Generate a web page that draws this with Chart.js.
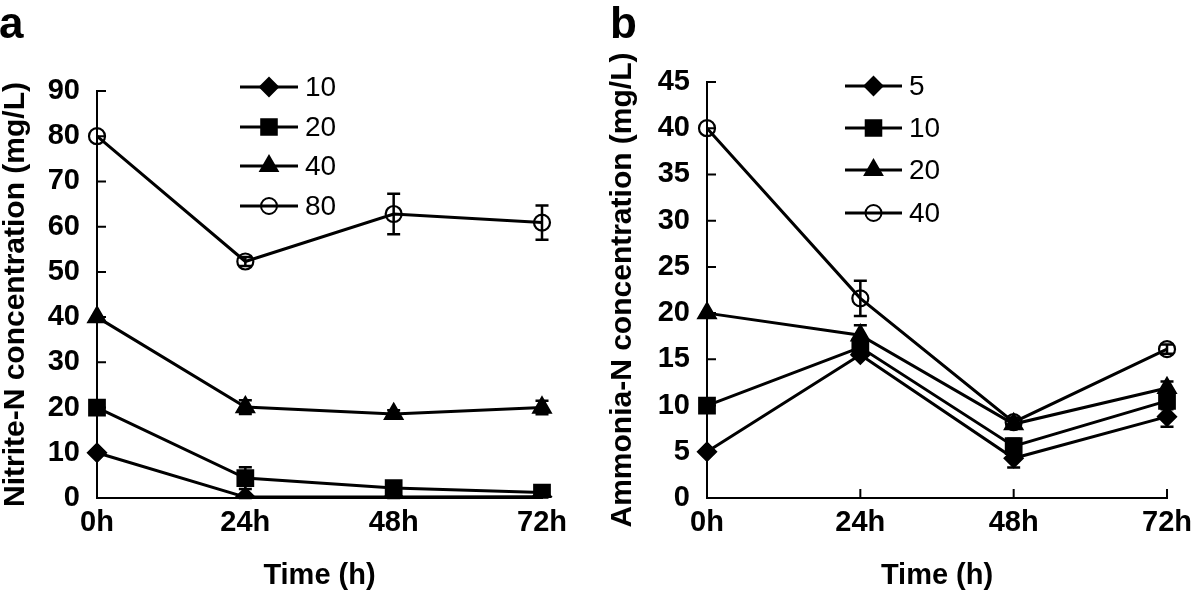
<!DOCTYPE html>
<html>
<head>
<meta charset="utf-8">
<script src="https://cdn.jsdelivr.net/npm/chart.js@4/dist/chart.umd.min.js"></script>
<style>
  body { margin: 0; background: #fff; width: 1200px; height: 595px; position: relative; overflow: hidden; font-family: "Liberation Sans", Arial, sans-serif; }
  .panel { position: absolute; top: 0; width: 600px; height: 595px; }
  .tag { position: absolute; top: 1px; font-weight: bold; font-size: 44px; line-height: 44px; color: #000; }
</style>
</head>
<body>
<div class="panel" style="left:0"><canvas id="chartA"></canvas></div>
<div class="panel" style="left:600px"><canvas id="chartB"></canvas></div>
<div class="tag" style="left:-1px">a</div>
<div class="tag" style="left:610px">b</div>
<script>
// shared x categories
const timeLabels = ["0h", "24h", "48h", "72h"];
const markerStyles = ["rectRot", "rect", "triangle", "circle"];
const markerSizes = [9, 11, 10, 8];

// panel a: nitrite-N (mg/L)
const nitriteNames = ["10", "20", "40", "80"];
const nitrite10 = [10, 0.2, 0.2, 0.3];
const nitrite20 = [20, 4.4, 2.2, 1.2];
const nitrite40 = [40, 20.1, 18.6, 20.0];
const nitrite80 = [80, 52.3, 62.8, 60.9];
const nitrite10Err = [0, 0.2, 0.2, 0.2];
const nitrite20Err = [0, 2.4, 0.6, 0.5];
const nitrite40Err = [0, 1.5, 0.8, 1.5];
const nitrite80Err = [0, 1.0, 4.5, 3.8];

// panel b: ammonia-N (mg/L)
const ammoniaNames = ["5", "10", "20", "40"];
const ammonia5 = [5, 15.5, 4.3, 8.8];
const ammonia10 = [10, 16.3, 5.6, 10.5];
const ammonia20 = [20, 17.6, 8.0, 11.9];
const ammonia40 = [40, 21.6, 8.2, 16.1];
const ammonia5Err = [0, 0.4, 1.0, 1.1];
const ammonia10Err = [0, 0.6, 0.8, 0.9];
const ammonia20Err = [0, 1.1, 0.5, 0.7];
const ammonia40Err = [0, 1.9, 0.5, 0.5];

const errorBars = {
  id: "errorBars",
  beforeDatasetsDraw(chart) {
    const ctx = chart.ctx, x = chart.scales.x, y = chart.scales.y;
    ctx.save();
    ctx.strokeStyle = "#000";
    ctx.lineWidth = 2.5;
    chart.data.datasets.forEach(ds => {
      ds.errors.forEach((e, i) => {
        if (!e) return;
        const px = x.getPixelForValue(i);
        const top = y.getPixelForValue(ds.data[i] + e);
        const bot = y.getPixelForValue(ds.data[i] - e);
        ctx.beginPath();
        ctx.moveTo(px, top); ctx.lineTo(px, bot);
        ctx.moveTo(px - 6.5, top); ctx.lineTo(px + 6.5, top);
        ctx.moveTo(px - 6.5, bot); ctx.lineTo(px + 6.5, bot);
        ctx.stroke();
      });
    });
    ctx.restore();
  }
};

// tick marks point into the plot
const innerTicks = {
  id: "innerTicks",
  afterDraw(chart) {
    const ctx = chart.ctx, x = chart.scales.x, y = chart.scales.y, a = chart.chartArea;
    ctx.save();
    ctx.strokeStyle = "#000";
    ctx.lineWidth = 2;
    ctx.beginPath();
    y.ticks.forEach(t => {
      const py = y.getPixelForValue(t.value);
      ctx.moveTo(a.left, py); ctx.lineTo(a.left + 9, py);
    });
    timeLabels.forEach((l, i) => {
      if (i === 0) return;
      const px = x.getPixelForValue(i);
      ctx.moveTo(px, a.bottom); ctx.lineTo(px, a.bottom - 9);
    });
    ctx.stroke();
    ctx.restore();
  }
};

const innerLegend = {
  id: "innerLegend",
  afterDraw(chart, args, opts) {
    const ctx = chart.ctx;
    ctx.save();
    ctx.font = "28px 'Liberation Sans', Arial, sans-serif";
    ctx.textBaseline = "middle";
    chart.data.datasets.forEach((ds, i) => {
      const ry = opts.rows[i];
      ctx.strokeStyle = "#000";
      ctx.lineWidth = 3;
      ctx.beginPath();
      ctx.moveTo(opts.x0, ry); ctx.lineTo(opts.x1, ry);
      ctx.stroke();
      ctx.fillStyle = ds.pointBackgroundColor;
      ctx.lineWidth = 2;
      Chart.helpers.drawPoint(ctx, { pointStyle: ds.pointStyle, radius: ds.pointRadius, rotation: 0, borderWidth: 2 }, (opts.x0 + opts.x1) / 2, ry);
      ctx.fillStyle = "#000";
      ctx.fillText(ds.label, opts.textX, ry + 1);
    });
    ctx.restore();
  }
};

function buildDatasets(names, series, errs) {
  return names.map((n, i) => ({
    label: n,
    data: series[i],
    errors: errs[i],
    borderColor: "#000",
    borderWidth: 3,
    pointStyle: markerStyles[i],
    pointRadius: markerSizes[i],
    pointBorderWidth: 2.2,
    pointBorderColor: "#000",
    pointBackgroundColor: i === 3 ? "rgba(0,0,0,0)" : "#000",
    tension: 0,
    fill: false
  }));
}

function makeChart(id, names, series, errs, yMax, yStep, yTitle, box, legend) {
  const tickFont = { family: "'Liberation Sans', Arial, sans-serif", size: 29, weight: "bold" };
  const titleFont = { family: "'Liberation Sans', Arial, sans-serif", size: 30, weight: "bold", lineHeight: 1 };
  return new Chart(document.getElementById(id), {
    type: "line",
    data: { labels: timeLabels, datasets: buildDatasets(names, series, errs) },
    options: {
      responsive: true,
      maintainAspectRatio: false,
      animation: false,
      layout: { padding: { left: 0, right: box.right, top: box.top, bottom: 0 } },
      plugins: { legend: { display: false }, tooltip: { enabled: false }, innerLegend: legend },
      scales: {
        x: {
          offset: false,
          grid: { display: false, drawTicks: false },
          border: { display: true, color: "#000", width: 2 },
          ticks: { color: "#000", font: tickFont, padding: 8, maxRotation: 0 },
          title: { display: true, text: "Time (h)", color: "#000", font: tickFont, padding: { top: 0, bottom: 2 } },
          afterFit: s => { s.height = 97; }
        },
        y: {
          min: 0, max: yMax,
          grid: { display: false, drawTicks: false },
          border: { display: true, color: "#000", width: 2 },
          ticks: { stepSize: yStep, color: "#000", font: tickFont, padding: 17 },
          title: { display: true, text: yTitle, color: "#000", font: titleFont, padding: { top: box.titlePad, bottom: 0 } },
          afterFit: s => { s.width = box.left; }
        }
      }
    },
    plugins: [errorBars, innerTicks, innerLegend]
  });
}

makeChart("chartA", nitriteNames,
  [nitrite10, nitrite20, nitrite40, nitrite80],
  [nitrite10Err, nitrite20Err, nitrite40Err, nitrite80Err],
  90, 10, "Nitrite-N concentration (mg/L)",
  { left: 97, right: 58, top: 91, titlePad: 1 },
  { x0: 240, x1: 298, textX: 305, rows: [87, 127, 166, 206] });

makeChart("chartB", ammoniaNames,
  [ammonia5, ammonia10, ammonia20, ammonia40],
  [ammonia5Err, ammonia10Err, ammonia20Err, ammonia40Err],
  45, 5, "Ammonia-N concentration (mg/L)",
  { left: 107, right: 28, top: 82, titlePad: 8 },
  { x0: 245, x1: 302, textX: 309, rows: [86, 128, 170, 213] });
</script>
</body>
</html>
